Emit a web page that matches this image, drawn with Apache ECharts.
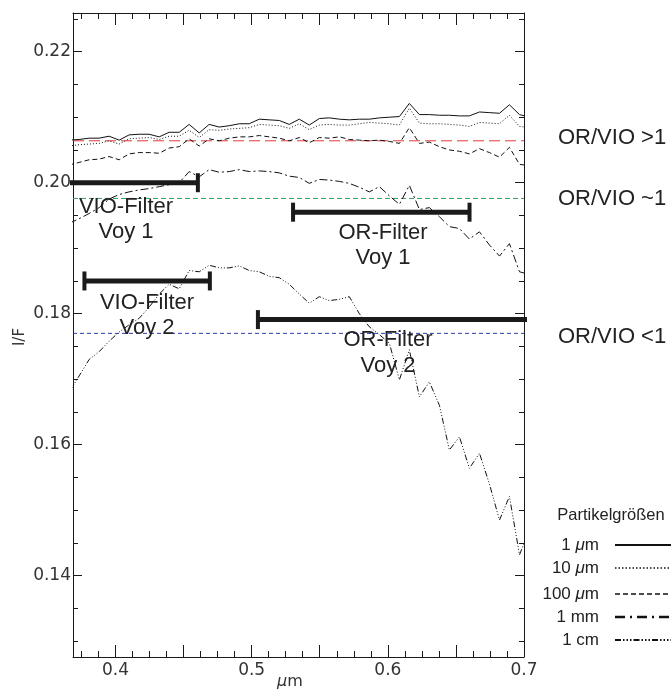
<!DOCTYPE html>
<html>
<head>
<meta charset="utf-8">
<script src="https://cdn.jsdelivr.net/npm/echarts@6/dist/echarts.min.js"></script>
<style>
html,body{margin:0;padding:0;background:#fff;}
#chart{width:671px;height:689px;}
</style>
</head>
<body>
<div id="chart"></div>
<script>
// ---------- data ----------
const wavelength = [0.3659,0.3733,0.3806,0.3880,0.3953,0.4027,0.4100,0.4174,0.4247,0.4321,0.4394,0.4468,0.4541,0.4615,0.4688,0.4762,0.4835,0.4909,0.4982,0.5056,0.5129,0.5203,0.5276,0.5350,0.5423,0.5497,0.5570,0.5644,0.5717,0.5791,0.5864,0.5938,0.6011,0.6085,0.6158,0.6232,0.6305,0.6379,0.6452,0.6526,0.6599,0.6673,0.6746,0.6820,0.6893,0.6967,0.7040];
const if1um   = [0.2065,0.2066,0.2068,0.2068,0.2071,0.2065,0.2073,0.2074,0.2074,0.2070,0.2077,0.2077,0.2089,0.2076,0.2089,0.2085,0.2087,0.2090,0.2090,0.2097,0.2096,0.2095,0.2089,0.2097,0.2088,0.2098,0.2099,0.2097,0.2096,0.2097,0.2097,0.2099,0.2100,0.2101,0.2121,0.2104,0.2104,0.2103,0.2103,0.2102,0.2102,0.2108,0.2107,0.2106,0.2119,0.2104,0.2100];
const if10um  = [0.2056,0.2058,0.2059,0.2060,0.2064,0.2059,0.2067,0.2068,0.2069,0.2066,0.2071,0.2071,0.2080,0.2069,0.2081,0.2080,0.2082,0.2083,0.2084,0.2089,0.2088,0.2087,0.2083,0.2090,0.2081,0.2088,0.2089,0.2088,0.2088,0.2090,0.2092,0.2091,0.2090,0.2088,0.2114,0.2091,0.2090,0.2090,0.2089,0.2088,0.2086,0.2092,0.2091,0.2090,0.2103,0.2086,0.2084];
const if100um = [0.2027,0.2031,0.2035,0.2036,0.2040,0.2035,0.2044,0.2046,0.2046,0.2045,0.2053,0.2055,0.2067,0.2056,0.2067,0.2064,0.2068,0.2070,0.2070,0.2072,0.2070,0.2068,0.2064,0.2069,0.2061,0.2069,0.2068,0.2070,0.2066,0.2065,0.2064,0.2065,0.2063,0.2060,0.2084,0.2060,0.2062,0.2055,0.2050,0.2048,0.2044,0.2052,0.2046,0.2039,0.2054,0.2028,0.2026];
const if1mm   = [0.1938,0.1945,0.1953,0.1962,0.1975,0.1982,0.1986,0.1989,0.1991,0.1994,0.1997,0.2000,0.2017,0.2009,0.2020,0.2016,0.2017,0.2020,0.2017,0.2018,0.2017,0.2015,0.2010,0.2008,0.1999,0.2005,0.2004,0.2002,0.1999,0.1993,0.1986,0.1994,0.1980,0.1967,0.1996,0.1959,0.1962,0.1948,0.1933,0.1930,0.1914,0.1925,0.1905,0.1888,0.1907,0.1864,0.1860];
const if1cm   = [0.1680,0.1705,0.1730,0.1742,0.1758,0.1772,0.1783,0.1793,0.1810,0.1830,0.1845,0.1838,0.1866,0.1864,0.1874,0.1870,0.1870,0.1873,0.1866,0.1864,0.1857,0.1855,0.1845,0.1830,0.1816,0.1826,0.1820,0.1822,0.1826,0.1800,0.1780,0.1768,0.1755,0.1699,0.1745,0.1673,0.1696,0.1660,0.1592,0.1612,0.1564,0.1587,0.1540,0.1485,0.1521,0.1432,0.1470];

const sizeNames = ['1 μm', '10 μm', '100 μm', '1 mm', '1 cm'];

// ratio reference levels
const ratioNames  = ['OR/VIO >1', 'OR/VIO ~1', 'OR/VIO <1'];
const ratioLevels = [0.2064, 0.1976, 0.1770];

// filter bands
const filterNames = ['VIO-Filter\nVoy 1', 'OR-Filter\nVoy 1', 'VIO-Filter\nVoy 2', 'OR-Filter\nVoy 2'];
const filterStart = [0.3500, 0.5304, 0.3772, 0.5046];
const filterEnd   = [0.4605, 0.6600, 0.4693, 0.7300];
const filterLevel = [0.2000, 0.1955, 0.1850, 0.1791];

// axes
const xMin = 0.3688, xMax = 0.7;
const yMin = 0.12759, yMax = 0.22591;
const xMajorTicks = [0.4, 0.45, 0.5, 0.55, 0.6, 0.65, 0.7];
const xMinorTicks = [0.375,0.3875,0.4125,0.425,0.4375,0.4625,0.475,0.4875,0.5125,0.525,0.5375,0.5625,0.575,0.5875,0.6125,0.625,0.6375,0.6625,0.675,0.6875];
const xTickLabels = [0.4, 0.5, 0.6, 0.7];
const yMajorTicks = [0.14, 0.16, 0.18, 0.20, 0.22];
const yMinorTicks = [0.13,0.135,0.145,0.15,0.155,0.165,0.17,0.175,0.185,0.19,0.195,0.205,0.21,0.215,0.225];
const yTickLabels = [0.14, 0.16, 0.18, 0.20, 0.22];

// ---------- chart ----------
const chart = echarts.init(document.getElementById('chart'), null, {renderer: 'canvas'});
const INK = '#1a1a1a';
const tickFont = {fontFamily: 'DejaVu Sans', fontSize: 17, color: '#333'};

function xAxisDef(pos, ticks, len, showLine, labels) {
  return {
    type: 'value', position: pos, min: xMin, max: xMax, gridIndex: 0,
    axisLine: {show: showLine, onZero: false, lineStyle: {color: INK, width: 1}},
    axisTick: {show: true, inside: true, length: len, customValues: ticks, lineStyle: {color: INK, width: 1}},
    axisLabel: labels ? Object.assign({show: true, customValues: labels, margin: 5,
      formatter: v => v.toFixed(1)}, tickFont) : {show: false},
    splitLine: {show: false}
  };
}
function yAxisDef(pos, ticks, len, showLine, labels) {
  return {
    type: 'value', position: pos, min: yMin, max: yMax, gridIndex: 0,
    axisLine: {show: showLine, onZero: false, lineStyle: {color: INK, width: 1}},
    axisTick: {show: true, inside: true, length: len, customValues: ticks, lineStyle: {color: INK, width: 1}},
    axisLabel: labels ? Object.assign({show: true, customValues: labels, margin: 2,
      formatter: v => v.toFixed(2)}, tickFont) : {show: false},
    splitLine: {show: false}
  };
}

const curveDash = ['solid', [1, 2], [5, 3], [8, 3, 2, 3], [6, 2, 1, 2, 1, 2, 1, 2]];
const curves = [if1um, if10um, if100um, if1mm, if1cm];

const series = [];
// ratio level lines
const ratioColors = ['#e8393b', '#2f9e63', '#2b3fae'];
const ratioDash = [[11, 5], [5, 3], [4, 3]];
ratioLevels.forEach((lv, i) => {
  series.push({
    name: ratioNames[i], type: 'line', xAxisIndex: 0, yAxisIndex: 0,
    data: [[xMin, lv], [xMax, lv]], symbol: 'none', silent: true,
    lineStyle: {color: ratioColors[i], width: 1, type: ratioDash[i]}, z: 2
  });
});
// curves
curves.forEach((arr, i) => {
  series.push({
    name: sizeNames[i], type: 'line', xAxisIndex: 0, yAxisIndex: 0,
    data: wavelength.map((x, k) => [x, arr[k]]), symbol: 'none', clip: true,
    lineStyle: {color: '#111', width: 1, type: curveDash[i]}, z: 3
  });
});
// filter bars
filterNames.forEach((nm, i) => {
  series.push({
    name: nm, type: 'line', xAxisIndex: 0, yAxisIndex: 0, clip: true,
    data: [[filterStart[i], filterLevel[i]], [filterEnd[i], filterLevel[i]]],
    symbol: 'rect', symbolSize: [4, 19], showSymbol: true,
    itemStyle: {color: INK}, lineStyle: {color: INK, width: 5}, z: 4,
    label: {show: false}
  });
});

// graphics: annotations and legend
const annFont = '22px "Liberation Sans", Arial, sans-serif';
const legFont = '17px "Liberation Sans", Arial, sans-serif';
const graphics = [];
function txt(x, y, text, font, align, color) {
  graphics.push({type: 'text', x: x, y: y, silent: true, z: 10,
    style: {text: text, font: font, fill: color || '#222', align: align || 'center', verticalAlign: 'middle',
      rich: {i: {fontStyle: 'italic', font: font.replace(/^/, 'italic ')}}}});
}
// filter captions
const capPos = [[126, 207, 232], [383, 233, 258], [147, 303, 328], [388, 340, 366]];
filterNames.forEach((nm, i) => {
  const parts = nm.split('\n');
  txt(capPos[i][0], capPos[i][1], parts[0], annFont);
  txt(capPos[i][0], capPos[i][2], parts[1], annFont);
});
// ratio labels
const ratioLabelY = [138, 199, 337];
ratioNames.forEach((nm, i) => txt(558, ratioLabelY[i], nm, annFont, 'left'));
// axis titles
graphics.push({type: 'text', x: 20, y: 337, rotation: Math.PI / 2, silent: true,
  style: {text: 'I/F', font: '15px "DejaVu Sans", sans-serif', fill: '#333', align: 'center', verticalAlign: 'middle'}});
txt(290, 682, '{i|μ}m', '16px "DejaVu Sans", sans-serif', 'center', '#333');
// legend
txt(611, 515, 'Partikelgrößen', '16.5px "Liberation Sans", Arial, sans-serif', 'center', '#222');
const legY = [545, 568, 594, 617, 640];
const legDash = [null, [1.5, 2], [5, 3], [10, 5, 2, 5], [6, 2, 1.5, 2, 1.5, 2, 1.5, 2]];
const legWidth = [2, 1.5, 1.6, 2.4, 1.8];
sizeNames.forEach((nm, i) => {
  txt(599, legY[i], nm.replace('μ', '{i|μ}'), legFont, 'right', '#222');
  graphics.push({type: 'line', silent: true, shape: {x1: 615, y1: legY[i], x2: 671, y2: legY[i]},
    style: {stroke: '#111', lineWidth: legWidth[i], lineDash: legDash[i]}});
});

const option = {
  animation: false,
  backgroundColor: '#fff',
  grid: {left: 73, right: 147, top: 13, bottom: 32, containLabel: false, outerBoundsMode: 'none'},
  xAxis: [
    xAxisDef('bottom', xMajorTicks, 12, true, xTickLabels),
    xAxisDef('bottom', xMinorTicks, 6, false, null),
    xAxisDef('top', xMajorTicks, 12, true, null),
    xAxisDef('top', xMinorTicks, 6, false, null)
  ],
  yAxis: [
    yAxisDef('left', yMajorTicks, 9, true, yTickLabels),
    yAxisDef('left', yMinorTicks, 5, false, null),
    yAxisDef('right', yMajorTicks, 9, true, null),
    yAxisDef('right', yMinorTicks, 5, false, null)
  ],
  series: series,
  graphic: graphics
};
chart.setOption(option);
</script>
</body>
</html>
